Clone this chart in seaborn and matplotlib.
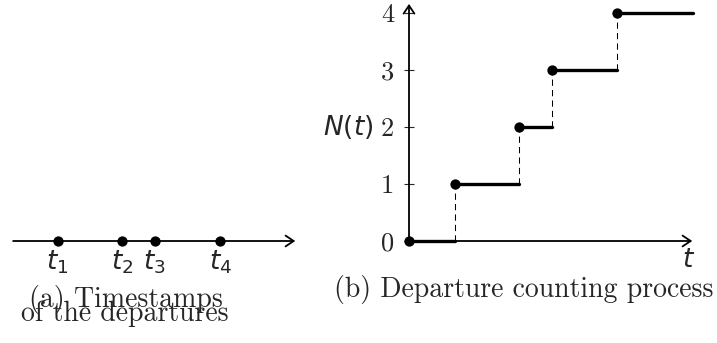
import matplotlib
matplotlib.use("Agg")
import matplotlib.pyplot as plt
import numpy as np
import pandas as pd
import seaborn as sns

# Departure times and the resulting count after each departure
departure_times = [0.8, 1.93, 2.5, 3.65]
departure_counts = [1, 2, 3, 4]
time_labels = ["$t_1$", "$t_2$", "$t_3$", "$t_4$"]
count_ticks = [0, 1, 2, 3, 4]
t_max = 4.97          # where the time axis ends
n_axis_top = 4.16     # where the count axis ends

sns.set_style("white")
plt.rcParams["mathtext.fontset"] = "dejavusans"
plt.rcParams["font.family"] = ["DejaVu Sans"]

W, H, DPI = 717, 343, 100
UNIT = 57.0           # pixels per data unit, same on both axes
fig = plt.figure(figsize=(W / DPI, H / DPI), dpi=DPI)


def panel(px_left, px_right, origin_x, origin_y=241):
    ax = fig.add_axes([px_left / W, 0, (px_right - px_left) / W, 1])
    ax.set_xlim(-(origin_x - px_left) / UNIT, (px_right - origin_x) / UNIT)
    ax.set_ylim(-(H - origin_y) / UNIT, origin_y / UNIT)
    for s in ax.spines.values():
        s.set_visible(False)
    return ax


arrow = dict(arrowstyle="->,head_length=0.45,head_width=0.3", lw=1.3,
             color="black", shrinkA=0, shrinkB=0, mutation_scale=13)
serif = "cmr10"
cap_size = 20
lab_size = 19

# ---------- (a) timestamps on a line ----------
axa = panel(0, 310, 12)
axa.set_xticks([]); axa.set_yticks([])
axa.annotate("", xy=(t_max, 0), xytext=(0.02, 0), arrowprops=arrow)
sns.scatterplot(x=departure_times, y=[0] * len(departure_times), ax=axa,
                color="black", s=55, edgecolor="black", linewidth=0, zorder=5)
for t, lab in zip(departure_times, time_labels):
    axa.text(t, -0.38, lab, ha="center", va="center", fontsize=lab_size)
axa.text(2.0, -1.16, "(a) Timestamps", ha="center", va="baseline",
         fontsize=cap_size, family=serif)
axa.text(1.98, -1.40, "of the departures", ha="center", va="baseline",
         fontsize=cap_size, family=serif)

# ---------- (b) counting process ----------
axb = panel(310, 717, 409)
axb.annotate("", xy=(t_max, 0), xytext=(0, 0), arrowprops=arrow)
axb.annotate("", xy=(0, n_axis_top), xytext=(0, 0), arrowprops=arrow)

# horizontal steps: value k holds from the k-th departure to the next one
starts = [0] + departure_times
ends = departure_times + [t_max + 0.01]
levels = [0] + departure_counts
seg = pd.DataFrame({
    "seg": np.repeat(np.arange(len(levels)), 2),
    "t": np.ravel(list(zip(starts, ends))),
    "n": np.repeat(levels, 2),
})
sns.lineplot(data=seg, x="t", y="n", units="seg", estimator=None, sort=False,
             color="black", lw=2.4, ax=axb, zorder=3)

# dashed jumps at each departure
jumps = pd.DataFrame({
    "seg": np.repeat(np.arange(len(departure_times)), 2),
    "t": np.repeat(departure_times, 2),
    "n": np.ravel([(c - 1, c) for c in departure_counts]),
})
sns.lineplot(data=jumps, x="t", y="n", units="seg", estimator=None, sort=False,
             color="black", lw=0.75, linestyle=(0, (6, 4)), ax=axb, zorder=2)

sns.scatterplot(x=[0] + departure_times, y=[0] + departure_counts, ax=axb,
                color="black", s=55, linewidth=0, zorder=5)

axb.set_xlabel(""); axb.set_ylabel("")
axb.set_xticks([])
axb.spines["left"].set_position(("data", 0))
axb.set_yticks(count_ticks)
axb.set_yticklabels([str(c) for c in count_ticks])
axb.tick_params(axis="y", direction="inout", length=7.5, width=0.8,
                pad=7, labelsize=19, left=True)
for lab in axb.get_yticklabels():
    lab.set_family(serif)
axb.set_ylim(-(H - 241) / UNIT, 241 / UNIT)
axb.set_xlim(-(409 - 310) / UNIT, (717 - 409) / UNIT)

axb.text(-0.63, 2, "$N(t)$", ha="right", va="center", fontsize=lab_size)
axb.text(4.9, -0.33, "$t$", ha="center", va="center", fontsize=lab_size)
axb.text(2.02, -0.98, "(b) Departure counting process", ha="center",
         va="baseline", fontsize=cap_size, family=serif)

fig.savefig("out.png", dpi=DPI)
